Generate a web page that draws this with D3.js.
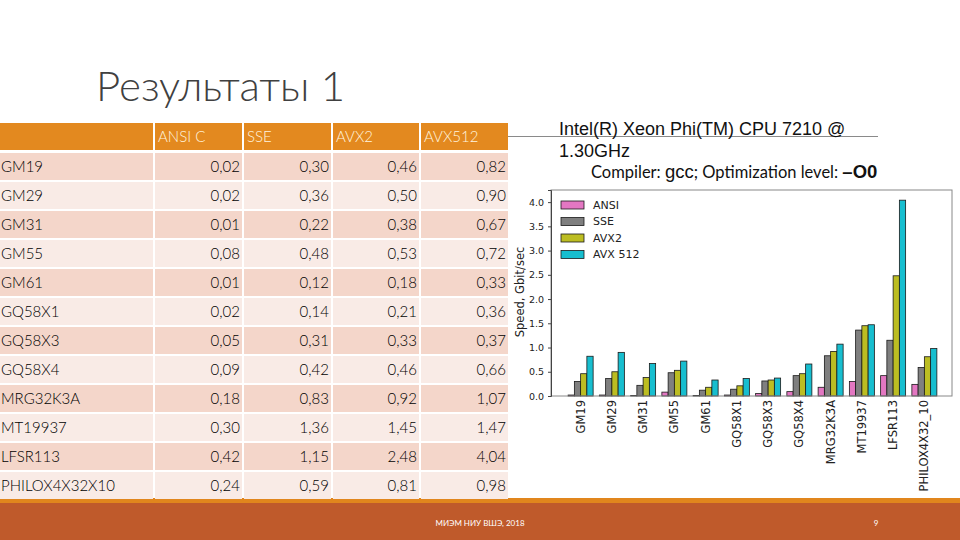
<!DOCTYPE html>
<html>
<head>
<meta charset="utf-8">
<script src="https://cdn.jsdelivr.net/npm/d3@7/dist/d3.min.js"></script>
<style>
    body { margin: 0; background: #fff; }
    svg { display: block; }
</style>
</head>
<body>
<div id="slide"></div>
<script>
(function () {
    "use strict";

    // table data (values as printed on the slide)
    var tableRows = ["GM19", "GM29", "GM31", "GM55", "GM61", "GQ58X1", "GQ58X3", "GQ58X4", "MRG32K3A", "MT19937", "LFSR113", "PHILOX4X32X10"];
    var tableHeaders = ["ANSI C", "SSE", "AVX2", "AVX512"];

    // chart data
    var chartCategories = ["GM19", "GM29", "GM31", "GM55", "GM61", "GQ58X1", "GQ58X3", "GQ58X4", "MRG32K3A", "MT19937", "LFSR113", "PHILOX4X32_10"];
    var seriesNames = ["ANSI", "SSE", "AVX2", "AVX 512"];
    var ansi = [0.02, 0.02, 0.01, 0.08, 0.01, 0.02, 0.05, 0.09, 0.18, 0.30, 0.42, 0.24];
    var sse = [0.30, 0.36, 0.22, 0.48, 0.12, 0.14, 0.31, 0.42, 0.83, 1.36, 1.15, 0.59];
    var avx2 = [0.46, 0.50, 0.38, 0.53, 0.18, 0.21, 0.33, 0.46, 0.92, 1.45, 2.48, 0.81];
    var avx512 = [0.82, 0.90, 0.67, 0.72, 0.33, 0.36, 0.37, 0.66, 1.07, 1.47, 4.04, 0.98];
    var yTicks = [0, 0.5, 1.0, 1.5, 2.0, 2.5, 3.0, 3.5, 4.0];

    var seriesValues = [ansi, sse, avx2, avx512];
    var seriesColors = ["#e377c2", "#7f7f7f", "#bcbd22", "#17becf"];

    var W = 960, H = 540;
    var svg = d3.select("#slide").append("svg")
        .attr("width", W)
        .attr("height", H);

    var bodyFont = "Lato, 'Open Sans', sans-serif";
    var plotFont = "'DejaVu Sans', sans-serif";

    // footer band
    svg.append("rect").attr("x", 0).attr("y", 498).attr("width", W).attr("height", 6).attr("fill", "#e1861d");
    svg.append("rect").attr("x", 0).attr("y", 503).attr("width", W).attr("height", 37).attr("fill", "#bf5a2b");
    svg.append("text")
        .attr("x", 480).attr("y", 526)
        .attr("text-anchor", "middle")
        .style("font-family", bodyFont)
        .style("font-size", "8px")
        .attr("fill", "#fff")
        .text("МИЭМ НИУ ВШЭ, 2018");
    svg.append("text")
        .attr("x", 876).attr("y", 526)
        .attr("text-anchor", "middle")
        .style("font-family", bodyFont)
        .style("font-size", "8px")
        .attr("fill", "#fff")
        .text("9");

    // title
    svg.append("text")
        .attr("x", 96).attr("y", 101)
        .style("font-family", bodyFont)
        .style("font-weight", 300)
        .style("font-size", "42px")
        .attr("fill", "#404040")
        .text("Результаты 1");

    // ---- table ----
    var colX = [0, 155, 244, 333, 421];
    var colRight = [153, 242, 331, 419, 508];
    var headerTop = 123, headerH = 27, rowTop = 153, rowH = 29;
    var tbl = svg.append("g");

    colX.forEach(function (x, i) {
        tbl.append("rect")
            .attr("x", x).attr("y", headerTop)
            .attr("width", colRight[i] - x).attr("height", headerH)
            .attr("fill", "#e3891f");
        if (i > 0) {
            tbl.append("text")
                .attr("x", x + 3).attr("y", headerTop + 19)
                .style("font-family", bodyFont)
                .style("font-weight", 300)
                .style("font-size", "15px")
                .attr("fill", "#fff4df")
                .text(tableHeaders[i - 1]);
        }
    });

    tableRows.forEach(function (name, r) {
        var top = rowTop + r * rowH;
        var fill = r % 2 === 0 ? "#f4d6ca" : "#f9ebe6";
        colX.forEach(function (x, i) {
            tbl.append("rect")
                .attr("x", x).attr("y", top)
                .attr("width", colRight[i] - x).attr("height", rowH - 2)
                .attr("fill", fill);
            var txt = i === 0 ? name : d3.format(".2f")(seriesValues[i - 1][r]).replace(".", ",");
            tbl.append("text")
                .attr("x", i === 0 ? 1 : colRight[i] - 2)
                .attr("y", top + 19)
                .attr("text-anchor", i === 0 ? "start" : "end")
                .style("font-family", bodyFont)
                .style("font-weight", 300)
                .style("font-size", "15px")
                .attr("fill", "#000")
                .text(txt);
        });
    });

    // ---- header texts on the right ----
    svg.append("line")
        .attr("x1", 508).attr("x2", 878)
        .attr("y1", 136.5).attr("y2", 136.5)
        .attr("stroke", "#8a8a8a").attr("stroke-width", 1);
    svg.append("text")
        .attr("x", 559).attr("y", 135)
        .style("font-family", "'Liberation Sans', Arial, sans-serif")
        .style("font-size", "18px")
        .attr("fill", "#111")
        .text("Intel(R) Xeon Phi(TM) CPU 7210 @");
    svg.append("text")
        .attr("x", 559).attr("y", 157)
        .style("font-family", "'Liberation Sans', Arial, sans-serif")
        .style("font-size", "18px")
        .attr("fill", "#111")
        .text("1.30GHz");
    var comp = svg.append("text")
        .attr("x", 591).attr("y", 178)
        .style("font-family", bodyFont)
        .style("font-size", "16.5px")
        .attr("fill", "#111");
    comp.append("tspan").text("Compiler: ");
    comp.append("tspan").style("font-family", "'Liberation Sans', Arial, sans-serif").style("font-size", "18.5px").text("gcc");
    comp.append("tspan").text("; Optimization level: ");
    comp.append("tspan").style("font-family", "'Liberation Sans', Arial, sans-serif").style("font-size", "18.5px").style("font-weight", "bold").text("–O0");

    // ---- bar chart ----
    var plot = { left: 551, right: 952, top: 190, bottom: 396 };
    var chart = svg.append("g");

    var x0 = d3.scaleBand()
        .domain(chartCategories)
        .range([565, 940])
        .paddingInner(0.2)
        .paddingOuter(0.1);
    var x1 = d3.scaleBand()
        .domain(seriesNames)
        .range([0, x0.bandwidth()]);
    var y = d3.scaleLinear()
        .domain([0, 4.25])
        .range([plot.bottom, plot.top]);

    var dataReady = chartCategories.map(function (cat, i) {
        return {
            cat: cat,
            values: seriesNames.map(function (s, k) {
                return { name: s, value: seriesValues[k][i], color: seriesColors[k] };
            })
        };
    });

    chart.selectAll("g.group")
        .data(dataReady)
        .enter()
        .append("g")
        .attr("class", "group")
        .attr("transform", function (d) { return "translate(" + x0(d.cat) + ",0)"; })
        .selectAll("rect")
        .data(function (d) { return d.values; })
        .enter()
        .append("rect")
        .attr("x", function (d) { return x1(d.name); })
        .attr("y", function (d) { return y(d.value); })
        .attr("width", x1.bandwidth())
        .attr("height", function (d) { return y(0) - y(d.value); })
        .attr("fill", function (d) { return d.color; })
        .attr("stroke", "#1a1a1a")
        .attr("stroke-width", 0.8);

    // frame
    chart.append("rect")
        .attr("x", plot.left).attr("y", plot.top)
        .attr("width", plot.right - plot.left)
        .attr("height", plot.bottom - plot.top)
        .attr("fill", "none")
        .attr("stroke", "#888")
        .attr("stroke-width", 1);

    // y axis
    var yAxis = chart.append("g")
        .attr("transform", "translate(" + plot.left + ",0)")
        .call(d3.axisLeft(y).tickValues(yTicks).tickSize(3).tickPadding(4).tickFormat(d3.format(".1f")));
    yAxis.select(".domain").attr("stroke", "#444");
    yAxis.selectAll(".tick line").attr("stroke", "#444");
    yAxis.selectAll("text")
        .style("font-family", plotFont)
        .style("font-size", "9.5px")
        .attr("fill", "#222");

    chart.append("text")
        .attr("transform", "rotate(-90)")
        .attr("x", -292).attr("y", 524)
        .attr("text-anchor", "middle")
        .style("font-family", plotFont)
        .style("font-size", "11.5px")
        .attr("fill", "#222")
        .text("Speed, Gbit/sec");

    // x axis
    var xAxis = chart.append("g")
        .attr("transform", "translate(0," + plot.bottom + ")")
        .call(d3.axisBottom(x0).tickSize(0));
    xAxis.select(".domain").remove();
    xAxis.selectAll("text")
        .attr("transform", "rotate(-90)")
        .attr("x", -4).attr("y", 0).attr("dy", "0.35em")
        .attr("text-anchor", "end")
        .style("font-family", plotFont)
        .style("font-size", "11.5px")
        .attr("fill", "#222");

    // legend
    var legend = chart.selectAll("g.legend")
        .data(seriesNames)
        .enter()
        .append("g")
        .attr("class", "legend")
        .attr("transform", function (d, i) { return "translate(561," + (205 + i * 16.5) + ")"; });
    legend.append("rect")
        .attr("x", 0).attr("y", -4)
        .attr("width", 23).attr("height", 8)
        .attr("fill", function (d, i) { return seriesColors[i]; })
        .attr("stroke", "#1a1a1a")
        .attr("stroke-width", 0.8);
    legend.append("text")
        .attr("x", 32).attr("y", 0).attr("dy", "0.35em")
        .style("font-family", plotFont)
        .style("font-size", "11px")
        .attr("fill", "#222")
        .text(function (d) { return d; });
})();
</script>
</body>
</html>
